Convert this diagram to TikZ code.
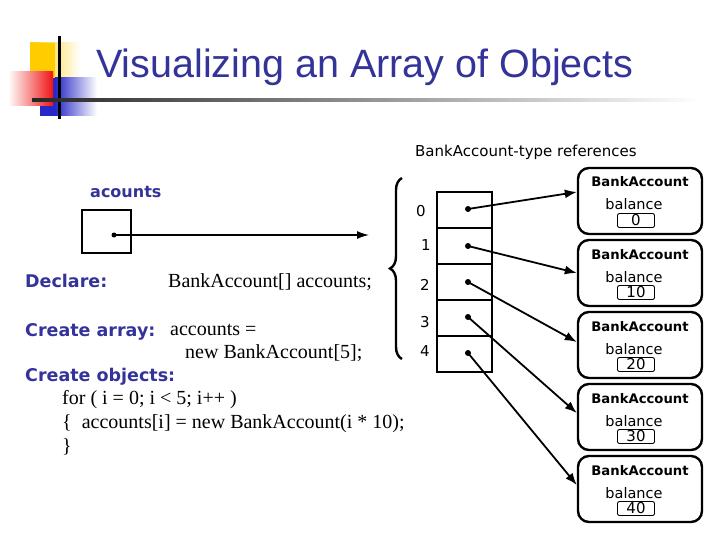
\documentclass[tikz,border=0pt]{standalone}
\usepackage{fontspec}
\setmainfont{Liberation Serif}
\newfontfamily\titlefont{Liberation Sans}
\newfontfamily\comicfont{DejaVu Sans}
\usetikzlibrary{arrows.meta,decorations.pathreplacing,calc}
\definecolor{navy}{RGB}{51,51,153}
\definecolor{decoyellow}{RGB}{255,204,0}
\definecolor{decored}{RGB}{240,20,20}
\definecolor{decoblue}{RGB}{40,40,200}
\tikzset{
  lbl/.style={font=\comicfont\bfseries\fontsize{17.5}{20}\selectfont, text=navy, anchor=base west, inner sep=0},
  code/.style={font=\fontsize{20}{24}\selectfont, anchor=base west, inner sep=0},
  idx/.style={font=\comicfont\fontsize{15}{17}\selectfont, inner sep=0},
  cell/.style={draw, line width=1.6pt, minimum width=55pt, minimum height=36pt, inner sep=0},
  dot/.style={circle, fill, inner sep=0, minimum size=6pt},
  obj/.style={draw, line width=2.4pt, rounded corners=11pt, minimum width=124pt, minimum height=66pt, inner sep=0},
  objtitle/.style={font=\comicfont\bfseries\fontsize{13.2}{15}\selectfont, anchor=base, inner sep=0},
  objbal/.style={font=\comicfont\fontsize{14.5}{16}\selectfont, anchor=base, inner sep=0},
  valbox/.style={draw, line width=0.9pt, rounded corners=2pt, minimum width=37pt, minimum height=14pt, inner sep=0, font=\comicfont\fontsize{15}{15}\selectfont},
  ptr/.style={line width=1.8pt, -{Latex[length=12pt,width=9pt]}},
}
\begin{document}
\begin{tikzpicture}[x=1pt,y=-1pt]
\useasboundingbox (0,0) rectangle (720,540);
% decoration
\shade[left color=decoyellow, right color=white, shading=axis] (30,43) rectangle (80,78);
\fill[decoyellow] (30,43) rectangle (55,78);
\shade[left color=decoblue, right color=white] (55,78) rectangle (97,116);
\fill[decoblue] (40,78) rectangle (56,116);
\shade[left color=white, right color=decored] (8,72) rectangle (53,106);
\draw[line width=3pt] (59,36) -- (59,119);
\shade[left color=black!85, right color=white] (32,98.5) rectangle (700,101.5);
% title
\node[font=\titlefont\fontsize{39.5}{44}\selectfont, text=navy, anchor=base west, inner sep=0] (title) at (96,78) {Visualizing an Array of Objects};
% accounts variable
\node[font=\comicfont\bfseries\fontsize{16}{18}\selectfont, text=navy, anchor=base west, inner sep=0] (acc) at (90,198) {acounts};
\node[draw, line width=1.3pt, minimum width=49pt, minimum height=43pt, inner sep=0] (accbox) at (106.5,231.5) {};
\node[dot, minimum size=5pt] (accdot) at (114,235) {};
\coordinate (accend) at (369,235);
\draw[line width=1.3pt, -{Latex[length=12pt,width=8pt]}] (accdot.center) -- (accend);
% brace
\draw[line width=2.4pt, decorate, decoration={brace, amplitude=12pt, aspect=0.5}] (402,359) -- (402,178);
% header
\node[font=\comicfont\fontsize{15}{17}\selectfont, anchor=base west, inner sep=0] (hdr) at (415,157) {BankAccount-type references};
% array
\foreach \i/\y in {0/210,1/246,2/282,3/318,4/354} {
  \node[cell] (c\i) at (464.5,\y) {};
}
\node[idx] (l0) at (421,211) {0};
\node[idx] (l1) at (426,245) {1};
\node[idx] (l2) at (425,285) {2};
\node[idx] (l3) at (425,322) {3};
\node[idx] (l4) at (425,351) {4};
\node[dot] (d0) at (468,209) {};
\node[dot] (d1) at (468,246) {};
\node[dot] (d2) at (468,282) {};
\node[dot] (d3) at (468,317) {};
\node[dot] (d4) at (468,353) {};
% objects
\foreach \i/\t/\v in {0/168/0,1/240/10,2/312/20,3/384/30,4/456/40} {
  \node[obj] (o\i) at (640,\t+33) {};
  \node[objtitle] (ot\i) at (640,\t+19) {BankAccount};
  \node[objbal] (ob\i) at (634,\t+42) {balance};
  \node[valbox] (ov\i) at (636,\t+52.5) {\v};
}
% pointers
\draw[ptr] (d0.center) -- ([yshift=9pt]o0.west);
\draw[ptr] (d1.center) -- ([yshift=0pt]o1.west);
\draw[ptr] (d2.center) -- ([yshift=3pt]o2.west);
\draw[ptr] (d3.center) -- ([yshift=4pt]o3.west);
\draw[ptr] (d4.center) -- ([yshift=4pt]o4.west);
% code text
\node[lbl] (decl) at (25,287) {Declare:};
\node[code] (declc) at (168,287) {BankAccount[] accounts;};
\node[lbl] (carr) at (25,336) {Create array:};
\node[code] (carr1) at (170,335) {accounts =};
\node[code] (carr2) at (185,358) {new BankAccount[5];};
\node[lbl] (cobj) at (25,381) {Create objects:};
\node[code] (for1) at (62,404) {for ( i = 0; i {\textless} 5; i++ )};
\node[code] (for2) at (62,428) {\{\ \ accounts[i] = new BankAccount(i * 10);};
\node[code] (for3) at (62,452) {\}};
\end{tikzpicture}
\end{document}
